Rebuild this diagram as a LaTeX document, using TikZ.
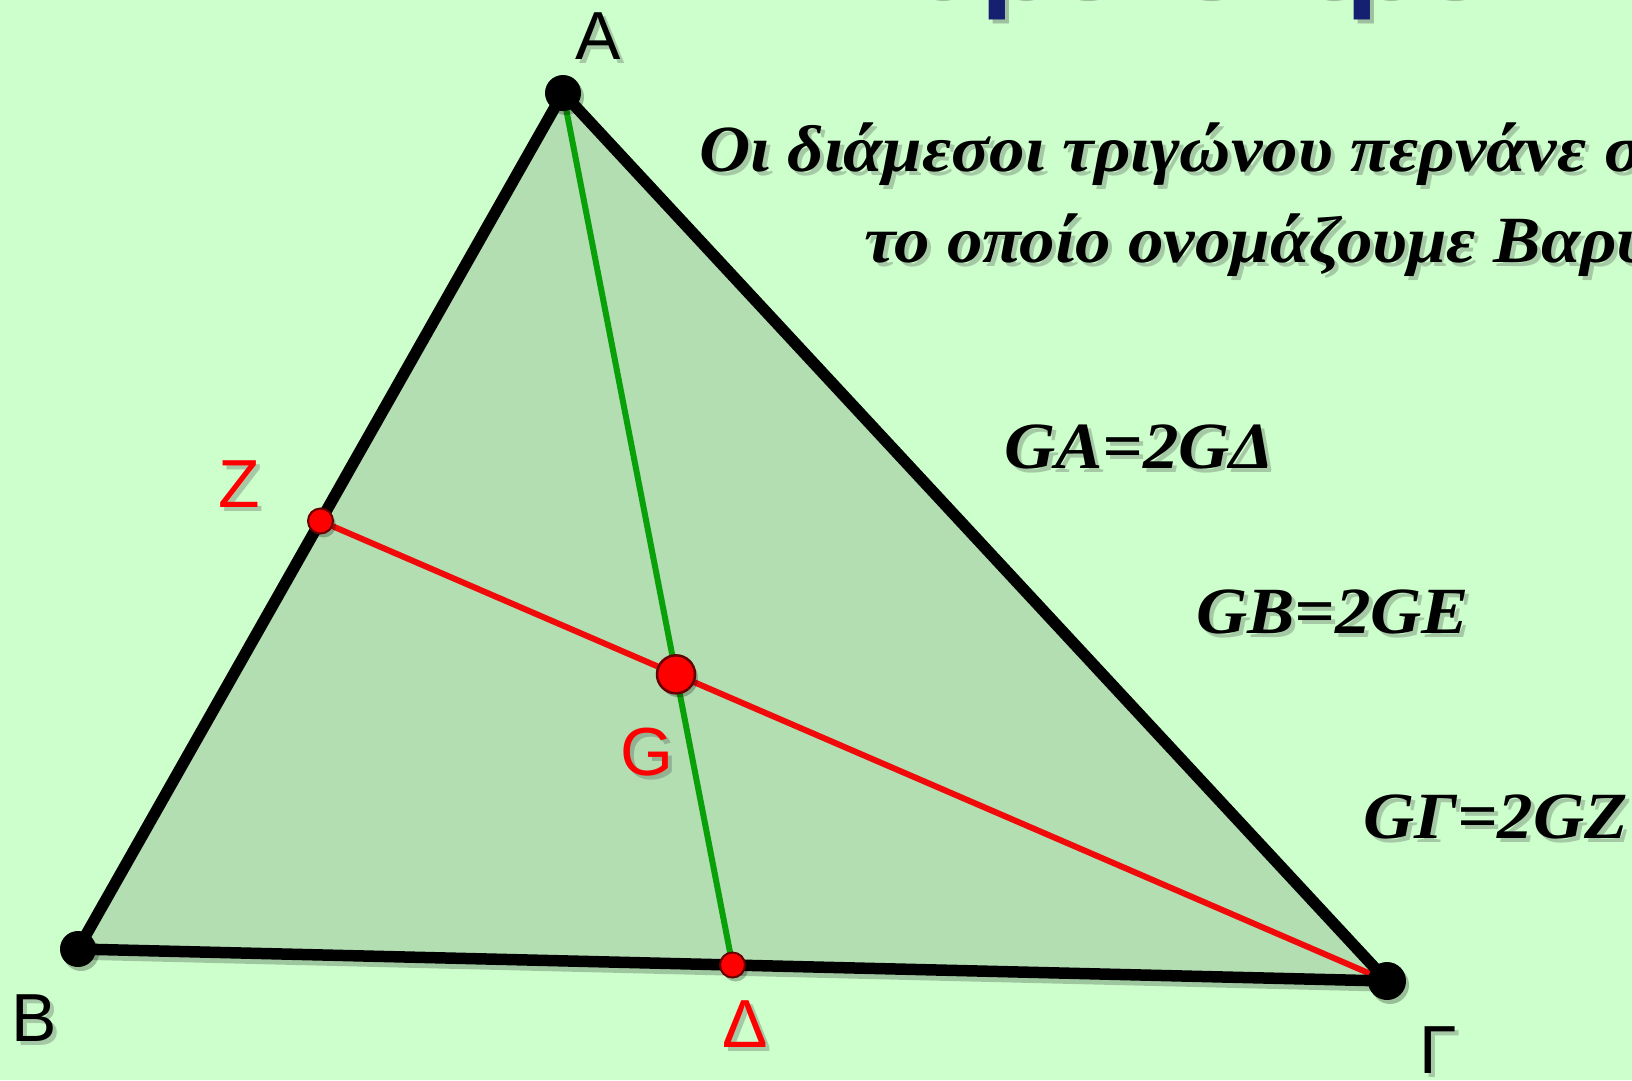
\documentclass[tikz,border=0pt]{standalone}
\usepackage{fontspec}
\setmainfont{Liberation Serif}[FakeStretch=1.075]
\newfontfamily\lblfont{Liberation Sans}
\usetikzlibrary{calc}
\definecolor{bg}{RGB}{204,255,204}
\definecolor{trifill}{RGB}{178,222,178}
\definecolor{medgreen}{RGB}{10,160,10}
\definecolor{medred}{RGB}{240,10,10}
\definecolor{titleblue}{RGB}{22,32,112}
\newcommand\shnode[4]{%
  \node[#3,text=black!70,text opacity=0.3] (#1s) at ($(#2)+(4,4)$) {#4};
  \node[#3] (#1) at (#2) {#4};}
\begin{document}
\begin{tikzpicture}[x=1pt,y=-1pt,inner sep=0pt,outer sep=0pt,
  lbl/.style={font=\lblfont\fontsize{68}{80}\selectfont},
  body/.style={font=\bfseries\itshape\fontsize{66}{78}\selectfont,anchor=base west},
  vdot/.style={circle,fill=black,minimum size=36pt},
  mdot/.style={circle,fill=red,draw=black!60!red,line width=2pt,minimum size=25pt},
  gdot/.style={circle,fill=red,draw=black!60!red,line width=2.5pt,minimum size=38pt},
  dotshadow/.style={circle,fill=black,opacity=0.25},
  edge/.style={line width=11.5pt,line join=round,line cap=round},
  med/.style={line width=6pt}]
\fill[bg] (0,0) rectangle (1632,1080);
\useasboundingbox (0,0) rectangle (1632,1080);
% title (cut off at the top)
\node[font=\lblfont\bfseries\fontsize{113}{130}\selectfont,anchor=base west,text=black!70,text opacity=0.35] (titles) at (835,0) {Βαρύκεντρο};
\node[font=\lblfont\bfseries\fontsize{113}{130}\selectfont,anchor=base west,text=titleblue] (title) at (831,-4) {Βαρύκεντρο};
% vertices
\coordinate (pA) at (563,93);
\coordinate (pB) at (78,949);
\coordinate (pC) at (1387,981);
\coordinate (pZ) at ($(pA)!0.5!(pB)$);
\coordinate (pD) at ($(pB)!0.5!(pC)$);
\coordinate (pG) at ($(pA)!2/3!(pD)$);
% triangle
\draw[edge,black,opacity=0.22] ($(pA)+(4,5)$) -- ($(pB)+(4,5)$) -- ($(pC)+(4,5)$) -- cycle;
\fill[trifill] (pA) -- (pB) -- (pC) -- cycle;
\draw[med,medgreen] (pA) -- (pD);
\draw[med,medred] (pZ) -- (pC);
\draw[edge,black] (pA) -- (pB) -- (pC) -- cycle;
% points
\foreach \p/\s in {pA/36pt,pB/36pt,pC/38pt,pZ/25pt,pD/25pt,pG/38pt}
  \node[dotshadow,minimum size=\s] (\p s) at ($(\p)+(3,4)$) {};
\node[vdot] (A) at (pA) {};
\node[vdot] (B) at (pB) {};
\node[vdot,minimum size=38pt] (C) at (pC) {};
\node[mdot] (Z) at (pZ) {};
\node[mdot] (D) at (pD) {};
\node[gdot] (G) at (pG) {};
% labels
\shnode{lA}{598,36}{lbl}{A}
\shnode{lB}{34,1018}{lbl}{B}
\shnode{lC}{1438,1050}{lbl}{Γ}
\shnode{lZ}{239,484}{lbl,text=red}{Z}
\shnode{lG}{647,752}{lbl,text=red}{G}
\shnode{lD}{745,1024}{lbl,text=red}{Δ}
% text
\shnode{t1}{699,171}{body}{Οι διάμεσοι τριγώνου περνάνε σ}
\shnode{t2}{864,262}{body}{το οποίο ονομάζουμε Βαρύ}
\shnode{e1}{1004,468}{body}{GA=2GΔ}
\shnode{e2}{1196,633}{body}{GB=2GE}
\shnode{e3}{1363,838}{body}{GΓ=2GZ}
\end{tikzpicture}
\end{document}
